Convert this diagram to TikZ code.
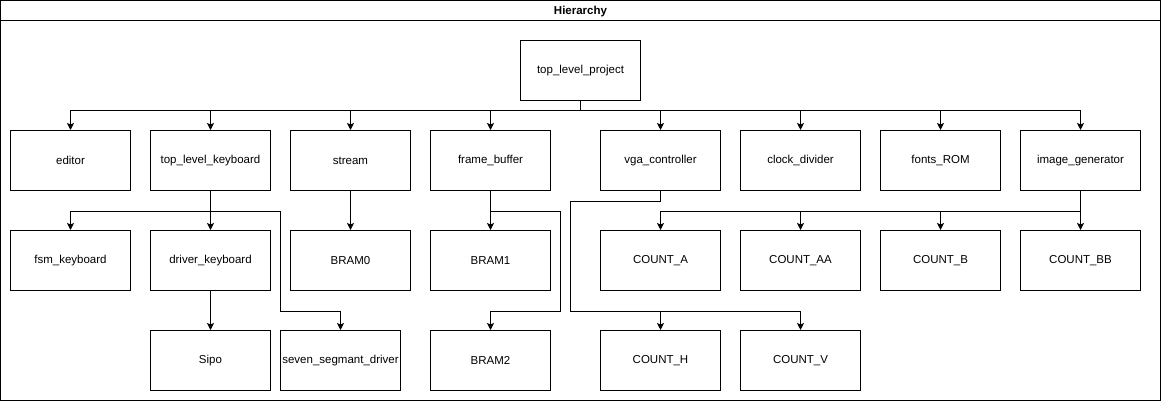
\documentclass[tikz,border=0pt]{standalone}
\usepackage{fontspec}
\setmainfont{Liberation Sans}
\usetikzlibrary{shapes,arrows,arrows.meta,positioning}
\tikzstyle{modulo} = [draw=black, line width=1pt, rectangle, minimum width=120pt, minimum height=60pt, inner sep=0pt, font=\fontsize{11.5}{14}\selectfont]
\tikzstyle{flecha} = [line width=1pt, -{Stealth[length=7pt,width=7pt,inset=1.5pt]}]
\tikzstyle{marco} = [draw=black, line width=1pt]

\begin{document}
\begin{tikzpicture}[x=1pt,y=-1pt]
\useasboundingbox (-0.5,-0.5) rectangle (1160.5,400.5);
% marco y titulo
\draw[marco] (0,0) rectangle (1160,400);
\draw[marco] (0,20) -- (1160,20);
\node[font=\fontsize{11.5}{14}\selectfont\bfseries] (titulo) at (580,11.5) {Hierarchy};
% nivel 0
\node[modulo] (top) at (580,70) {top\_level\_project};
% nivel 1
\node[modulo] (editor) at (70,160) {editor};
\node[modulo] (tlk) at (210,160) {top\_level\_keyboard};
\node[modulo] (stream) at (350,160) {stream};
\node[modulo] (fb) at (490,160) {frame\_buffer};
\node[modulo] (vga) at (660,160) {vga\_controller};
\node[modulo] (clk) at (800,160) {clock\_divider};
\node[modulo] (fonts) at (940,160) {fonts\_ROM};
\node[modulo] (img) at (1080,160) {image\_generator};
% nivel 2
\node[modulo] (fsm) at (70,260) {fsm\_keyboard};
\node[modulo] (drv) at (210,260) {driver\_keyboard};
\node[modulo] (bram0) at (350,260) {BRAM0};
\node[modulo] (bram1) at (490,260) {BRAM1};
\node[modulo] (cnta) at (660,260) {COUNT\_A};
\node[modulo] (cntaa) at (800,260) {COUNT\_AA};
\node[modulo] (cntb) at (940,260) {COUNT\_B};
\node[modulo] (cntbb) at (1080,260) {COUNT\_BB};
% nivel 3
\node[modulo] (sipo) at (210,360) {Sipo};
\node[modulo] (seven) at (340,360) {seven\_segmant\_driver};
\node[modulo] (bram2) at (490,360) {BRAM2};
\node[modulo] (cnth) at (660,360) {COUNT\_H};
\node[modulo] (cntv) at (800,360) {COUNT\_V};
% conexiones
\foreach \hijo in {editor,tlk,stream,fb,vga,clk,fonts,img}
  \draw[flecha] (top.south) -- ++(0,10) -| (\hijo.north);
\draw[flecha] (tlk.south) -- ++(0,20) -| (fsm.north);
\draw[flecha] (tlk.south) -- (drv.north);
\draw[flecha] (tlk.south) -- ++(0,20) -| ++(70,100) -| (seven.north);
\draw[flecha] (drv.south) -- (sipo.north);
\draw[flecha] (stream.south) -- (bram0.north);
\draw[flecha] (fb.south) -- (bram1.north);
\draw[flecha] (fb.south) -- ++(0,20) -| ++(70,100) -| (bram2.north);
\foreach \hijo in {cnth,cntv}
  \draw[flecha] (vga.south) -- ++(0,10) -| ++(-90,110) -| (\hijo.north);
\foreach \hijo in {cnta,cntaa,cntb,cntbb}
  \draw[flecha] (img.south) -- ++(0,20) -| (\hijo.north);
\end{tikzpicture}
\end{document}
